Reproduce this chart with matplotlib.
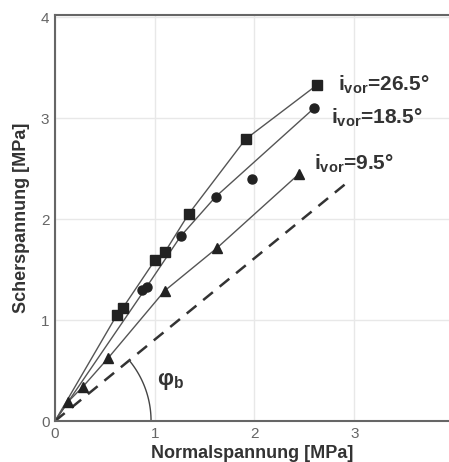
import numpy as np
import matplotlib
matplotlib.use("Agg")
import matplotlib.pyplot as plt

plt.rcParams['font.family'] = ['Liberation Sans', 'DejaVu Sans']
plt.rcParams['mathtext.fontset'] = 'custom'
plt.rcParams['mathtext.rm'] = 'Liberation Sans:bold'
plt.rcParams['mathtext.bf'] = 'Liberation Sans:bold'
plt.rcParams['mathtext.it'] = 'Liberation Sans:bold'

sq_x = [0.62, 0.68, 1.00, 1.10, 1.34, 1.91, 2.63]
sq_y = [1.05, 1.12, 1.59, 1.67, 2.05, 2.79, 3.33]
ci_x = [0.87, 0.92, 1.26, 1.61, 1.98, 2.60]
ci_y = [1.30, 1.33, 1.83, 2.22, 2.40, 3.10]
tr_x = [0.13, 0.28, 0.53, 1.10, 1.62, 2.45]
tr_y = [0.19, 0.34, 0.62, 1.29, 1.71, 2.45]

# Ausgleichslinien
sq_fx = [0, 0.62, 0.68, 1.00, 1.10, 1.34, 1.91, 2.63]
sq_fy = [0, 1.05, 1.12, 1.59, 1.67, 2.05, 2.79, 3.33]
ci_fx = [0, 0.92, 1.26, 1.61, 2.60]
ci_fy = [0, 1.33, 1.83, 2.22, 3.10]
tr_fx = [0, 0.13, 0.28, 0.53, 1.10, 1.62, 2.45]
tr_fy = [0, 0.19, 0.34, 0.62, 1.29, 1.71, 2.45]

# Basisreibungswinkel
base_x = [0, 2.94]
base_y = [0, 2.37]

labels = ["26.5°", "18.5°", "9.5°"]
label_pos = [(2.84, 3.33), (2.77, 3.00), (2.60, 2.55)]

fig = plt.figure(figsize=(4.49, 4.62), dpi=100)
ax = fig.add_axes([0.1225, 0.0887, 0.8775, 0.8788])

lc = '#555555'
mc = '#222222'
ax.plot(sq_fx, sq_fy, color=lc, lw=1.0, zorder=2)
ax.plot(ci_fx, ci_fy, color=lc, lw=1.0, zorder=2)
ax.plot(tr_fx, tr_fy, color=lc, lw=1.0, zorder=2)
ax.plot(sq_x, sq_y, 's', color=mc, ms=6.5, zorder=3)
ax.plot(ci_x, ci_y, 'o', color=mc, ms=6.5, zorder=3)
ax.plot(tr_x, tr_y, '^', color=mc, ms=6.5, zorder=3)

ax.plot(base_x, base_y, color='#333333', lw=1.8, dashes=(5, 3.5), zorder=2)

# Winkelbogen
ang = np.arctan2(base_y[1] * 101.5, base_x[1] * 99.7)
t = np.linspace(0, ang, 60)
r = 96
ax.plot(r * np.cos(t) / 99.7, r * np.sin(t) / 101.5, color='#444444', lw=1.0)
ax.text(1.02, 0.40, r'$\mathbf{\varphi_b}$', fontsize=16, color='#333333',
        ha='left', va='center')

for lab, (lx, ly) in zip(labels, label_pos):
    ax.text(lx, ly, r'$\mathbf{i_{vor}}$=' + lab, fontsize=15, fontweight='bold',
            color='#333333', ha='left', va='center')

ax.set_xlim(0, 3.95)
ax.set_ylim(0, 4.02)
ax.set_xticks([0, 1, 2, 3])
ax.set_yticks([0, 1, 2, 3, 4])
ax.grid(True, color='#e8e8e8', lw=1.0)
ax.set_axisbelow(True)
ax.tick_params(length=0, labelsize=11, labelcolor='#666666', pad=4)
for s in ['left', 'bottom', 'top']:
    ax.spines[s].set_color('#666666')
    ax.spines[s].set_linewidth(1.5)
ax.spines['right'].set_visible(False)

ax.set_xlabel('Normalspannung [MPa]', fontsize=13, fontweight='bold',
              color='#333333', labelpad=3)
ax.set_ylabel('Scherspannung [MPa]', fontsize=13, fontweight='bold',
              color='#333333', labelpad=8)

fig.savefig('out.png', dpi=100)
